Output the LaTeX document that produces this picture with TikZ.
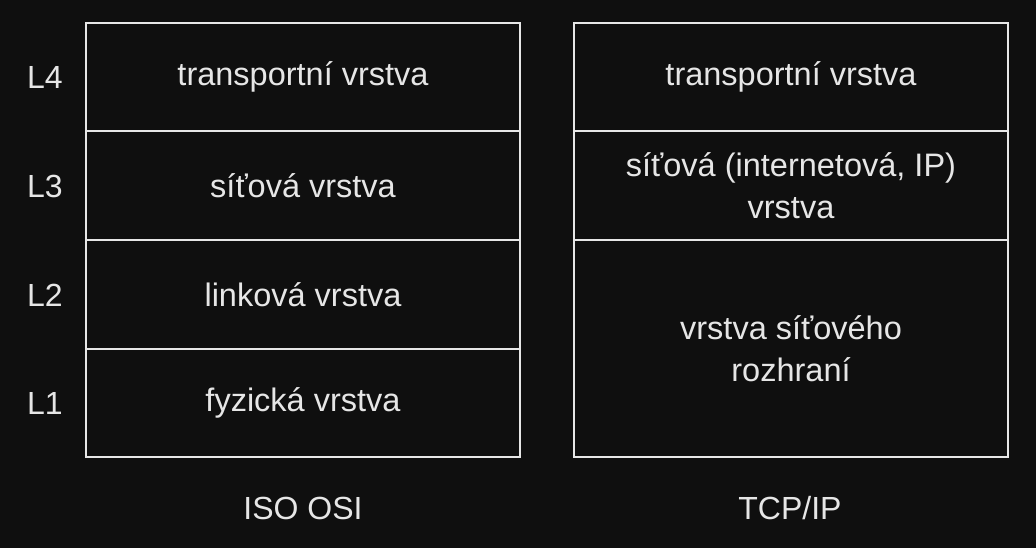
\documentclass[tikz,border=0pt]{standalone}
\usepackage{fontspec}
\setmainfont{Liberation Sans}
\definecolor{bg}{HTML}{0F0F0F}
\definecolor{fg}{HTML}{E6E6E6}
\begin{document}
\begin{tikzpicture}[x=1pt,y=-1pt,
  cell/.style={draw=fg, line width=2.5pt, text=fg, inner sep=0pt, align=center,
    minimum width=434pt, font=\fontsize{32.5}{42}\selectfont},
  lbl/.style={text=fg, inner sep=0pt, font=\fontsize{32}{42}\selectfont}]
\fill[bg] (0,0) rectangle (1036,548);
\useasboundingbox (0,0) rectangle (1036,548);
% ISO OSI
\node[cell, minimum height=108pt] (o4) at (303,77) {transportní vrstva};
\node[cell, minimum height=109pt] (o3) at (303,185.5) {síťová vrstva};
\node[cell, minimum height=109pt] (o2) at (303,294.5) {linková vrstva};
\node[cell, minimum height=108pt] (o1) at (303,403) {fyzická vrstva};
% TCP/IP
\node[cell, minimum height=108pt] (t4) at (791,77) {transportní vrstva};
\node[cell, minimum height=109pt] (t3) at (791,185.5) {síťová (internetová, IP)\\vrstva};
\node[cell, minimum height=217pt] (t1) at (791,348.5) {vrstva síťového\\rozhraní};
% layer labels
\node[lbl] (l4) at (45,77) {L4};
\node[lbl] (l3) at (45,186) {L3};
\node[lbl] (l2) at (45,295) {L2};
\node[lbl] (l1) at (45,403) {L1};
% captions
\node[lbl] (iso) at (303,508) {ISO OSI};
\node[lbl] (tcp) at (790,508) {TCP/IP};
\end{tikzpicture}
\end{document}
